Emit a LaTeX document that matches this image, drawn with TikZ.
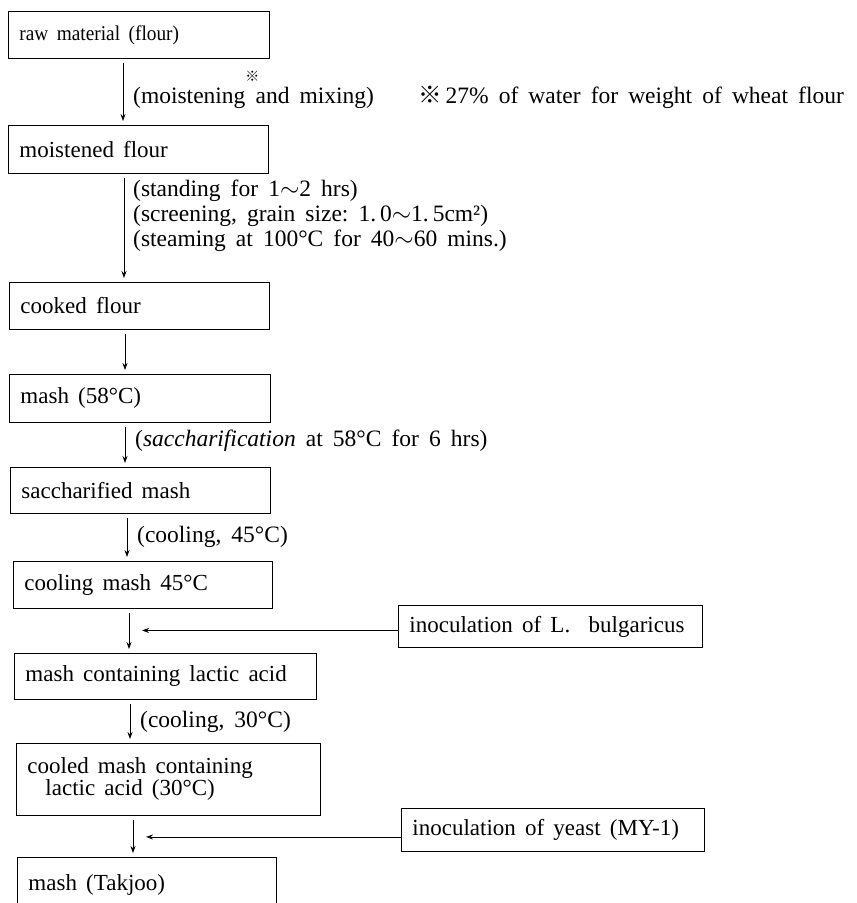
\documentclass[tikz,border=0pt]{standalone}
\usepackage{graphicx}
\usepackage{fontspec}
\setmainfont{Liberation Serif}
\newfontfamily\cjk{Noto Sans CJK JP}
\usetikzlibrary{arrows.meta}
\begin{document}
\begin{tikzpicture}[x=1pt,y=-1pt,
  box/.style={draw, line width=0.9pt, anchor=north west, inner xsep=11pt, inner ysep=0pt, align=left, font=\fontsize{23}{22}\selectfont, execute at begin node={\spaceskip=0.4em plus 0.1em minus 0.1em\relax}},
  lbl/.style={anchor=west, inner sep=0pt, align=left, font={\fontsize{23.5}{25}\selectfont\spaceskip=0.43em plus 0.1em minus 0.1em}},
  arr/.style={-{Stealth[length=7pt,width=5pt]}, line width=0.8pt},
  flow/.style={arr, shorten <=4pt, shorten >=4pt}]
\useasboundingbox (0,0) rectangle (857,903);
\clip (0,0) rectangle (857,903);
\fill[white] (0,0) rectangle (857,903);

% boxes
\node[box, text width=239pt, minimum height=47pt] (b1) at (8,11) {\fontsize{21}{22}\selectfont\scalebox{0.92}[1]{raw material (flour)}};
\node[box, text width=238pt, minimum height=48pt] (b2) at (8,125) {moistened flour};
\node[box, text width=238pt, minimum height=47pt] (b3) at (9,282) {cooked flour};
\node[box, text width=239pt, minimum height=48pt] (b4) at (9,374) {mash (58°C)};
\node[box, text width=238pt, minimum height=46pt] (b5) at (10,467) {saccharified mash};
\node[box, text width=237pt, minimum height=47pt] (b6) at (13,561) {cooling mash 45°C};
\node[box, text width=282pt, minimum height=42pt] (bl) at (398,605) {inoculation of L.\ \ bulgaricus};
\node[box, text width=280pt, minimum height=46pt] (b7) at (14,653) {mash containing lactic acid};
\node[box, text width=282pt, minimum height=72pt] (b8) at (16,743) {cooled mash containing\\\hspace*{18pt}lactic acid (30°C)};
\node[box, text width=281pt, minimum height=43pt] (by) at (401,808) {inoculation of yeast (MY-1)};
\node[box, text width=237pt, minimum height=55pt] (b9) at (17,857) {mash (Takjoo)};

% arrow x positions
\coordinate (x1) at (123,0);
\coordinate (x2) at (124,0);
\coordinate (x3) at (125,0);
\coordinate (x4) at (125,0);
\coordinate (x5) at (127,0);
\coordinate (x6) at (129,0);
\coordinate (x7) at (130,0);
\coordinate (x8) at (133,0);
\coordinate (s6) at (142,0);
\coordinate (s8) at (146,0);

\draw[flow] (b1.south -| x1) -- (b2.north -| x1);
\draw[flow] (b2.south -| x2) -- (b3.north -| x2);
\draw[flow] (b3.south -| x3) -- (b4.north -| x3);
\draw[flow] (b4.south -| x4) -- (b5.north -| x4);
\draw[flow] (b5.south -| x5) -- (b6.north -| x5);
\draw[flow] (b6.south -| x6) -- (b7.north -| x6);
\draw[flow] (b7.south -| x7) -- (b8.north -| x7);
\draw[flow] (b8.south -| x8) -- (b9.north -| x8);

\draw[arr] ([yshift=-4pt]bl.west) -- ([yshift=-4pt]bl.west -| s6);
\draw[arr] ([yshift=-7pt]by.west) -- ([yshift=-7pt]by.west -| s8);

% labels
\node[lbl, anchor=base west] (l1) at (133,103) {(moistening\rlap{\kern0pt\raisebox{2.0ex}{\cjk\fontsize{14}{14}\selectfont ※}} and mixing)};
\node[lbl, anchor=base west] (note) at (418,103) {{\cjk ※}\,27\%\ of water for weight of wheat flour};
\node[lbl] (l2) at (133,216) {(standing for 1$\sim$2 hrs)\\(screening,\ grain size:\ 1.\,0$\sim$1.\,5cm²)\\(steaming at 100°C for 40$\sim$60 mins.)};
\node[lbl] (l4) at (135,441) {(\textit{saccharification} at 58°C for 6 hrs)};
\node[lbl] (l5) at (137,537) {(cooling,\ 45°C)};
\node[lbl] (l7) at (140,722) {(cooling,\ 30°C)};
\end{tikzpicture}
\end{document}
